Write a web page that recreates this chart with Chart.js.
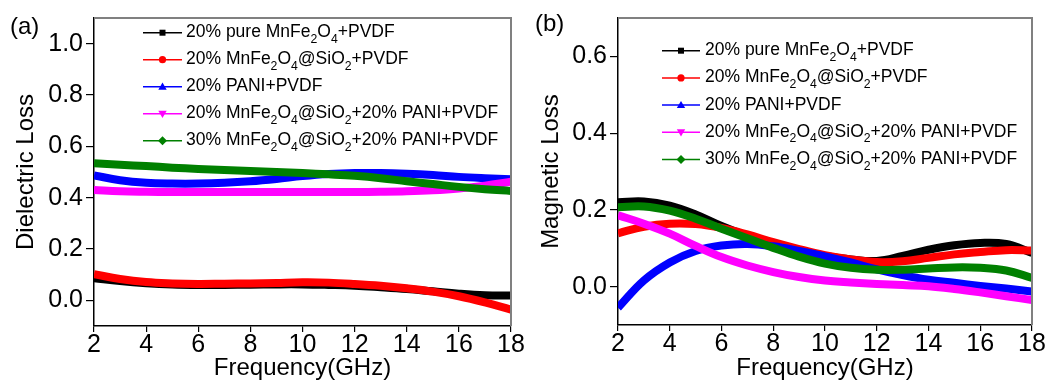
<!DOCTYPE html>
<html>
<head>
<meta charset="utf-8">
<script src="https://cdn.jsdelivr.net/npm/chart.js@4/dist/chart.umd.min.js"></script>
<style>
  html, body { margin: 0; padding: 0; background: #fff; }
  body { width: 1064px; height: 390px; position: relative; overflow: hidden; }
  canvas { position: absolute; top: 0; }
  #c1 { left: 0; }
  #c2 { left: 532px; }
</style>
</head>
<body>
<canvas id="c1" width="532" height="390"></canvas>
<canvas id="c2" width="532" height="390"></canvas>
<script>
// ---------- data ----------
const freq = [2, 3, 4, 5, 6, 7, 8, 9, 10, 11, 12, 13, 14, 15, 16, 17, 18];
const xTicks = [2, 4, 6, 8, 10, 12, 14, 16, 18];
const dielTicks = [0.0, 0.2, 0.4, 0.6, 0.8, 1.0];
const magTicks = [0.0, 0.2, 0.4, 0.6];

const seriesLabels = [
  '20% pure MnFe_2O_4+PVDF',
  '20% MnFe_2O_4@SiO_2+PVDF',
  '20% PANI+PVDF',
  '20% MnFe_2O_4@SiO_2+20% PANI+PVDF',
  '30% MnFe_2O_4@SiO_2+20% PANI+PVDF'
];
const seriesColors = ['#000000', '#ff0000', '#0000ff', '#ff00ff', '#008000'];
const seriesMarkers = ['square', 'circle', 'triangle', 'invTriangle', 'diamond'];

// (a) Dielectric loss
const dielPure      = [0.086, 0.075, 0.067, 0.062, 0.060, 0.060, 0.061, 0.062, 0.062, 0.060, 0.057, 0.051, 0.044, 0.035, 0.026, 0.020, 0.019];
const dielSiO2      = [0.102, 0.083, 0.071, 0.066, 0.064, 0.065, 0.066, 0.068, 0.070, 0.069, 0.064, 0.057, 0.047, 0.034, 0.016, -0.008, -0.036];
const dielPani      = [0.487, 0.468, 0.458, 0.455, 0.455, 0.458, 0.464, 0.473, 0.484, 0.492, 0.496, 0.496, 0.493, 0.488, 0.481, 0.476, 0.472];
const dielSiO2Pani20 = [0.430, 0.425, 0.423, 0.422, 0.422, 0.422, 0.422, 0.422, 0.422, 0.422, 0.422, 0.423, 0.425, 0.429, 0.436, 0.447, 0.462];
const dielSiO2Pani30 = [0.534, 0.528, 0.523, 0.517, 0.512, 0.508, 0.504, 0.500, 0.496, 0.491, 0.485, 0.476, 0.464, 0.453, 0.442, 0.433, 0.426];

// (b) Magnetic loss
const magPure       = [0.220, 0.222, 0.211, 0.188, 0.158, 0.132, 0.110, 0.092, 0.080, 0.071, 0.067, 0.080, 0.096, 0.108, 0.114, 0.111, 0.088];
const magSiO2       = [0.139, 0.156, 0.164, 0.163, 0.153, 0.136, 0.116, 0.098, 0.082, 0.071, 0.064, 0.066, 0.075, 0.084, 0.090, 0.095, 0.094];
const magPani       = [-0.055, 0.016, 0.063, 0.093, 0.107, 0.111, 0.105, 0.093, 0.079, 0.063, 0.045, 0.030, 0.018, 0.010, 0.002, -0.005, -0.013];
const magSiO2Pani20 = [0.186, 0.164, 0.138, 0.106, 0.077, 0.055, 0.038, 0.025, 0.016, 0.011, 0.007, 0.004, 0.001, -0.006, -0.015, -0.025, -0.035];
const magSiO2Pani30 = [0.207, 0.209, 0.198, 0.177, 0.151, 0.126, 0.101, 0.078, 0.060, 0.049, 0.044, 0.044, 0.047, 0.050, 0.049, 0.042, 0.023];

// ---------- helpers ----------
const FAMILY = '"Liberation Sans", Arial, sans-serif';
Chart.defaults.font.family = FAMILY;
Chart.defaults.color = '#000';

function drawRich(ctx, text, x, y, size) {
  const parts = text.split(/(_\d)/).filter(s => s.length);
  let cx = x;
  ctx.textBaseline = 'alphabetic';
  ctx.textAlign = 'left';
  for (const p of parts) {
    if (p[0] === '_') {
      ctx.font = (size * 0.7) + 'px ' + FAMILY;
      ctx.fillText(p.slice(1), cx, y + size * 0.32);
      cx += ctx.measureText(p.slice(1)).width;
    } else {
      ctx.font = size + 'px ' + FAMILY;
      ctx.fillText(p, cx, y);
      cx += ctx.measureText(p).width;
    }
  }
}

function drawMarker(ctx, type, x, y, color) {
  ctx.save();
  ctx.fillStyle = color;
  ctx.beginPath();
  if (type === 'square') {
    ctx.rect(x - 3, y - 3, 6, 6);
  } else if (type === 'circle') {
    ctx.arc(x, y, 3.6, 0, Math.PI * 2);
  } else if (type === 'triangle') {
    ctx.moveTo(x, y - 4.2); ctx.lineTo(x + 4.2, y + 3); ctx.lineTo(x - 4.2, y + 3); ctx.closePath();
  } else if (type === 'invTriangle') {
    ctx.moveTo(x, y + 4.2); ctx.lineTo(x + 4.2, y - 3); ctx.lineTo(x - 4.2, y - 3); ctx.closePath();
  } else if (type === 'diamond') {
    ctx.moveTo(x, y - 4.5); ctx.lineTo(x + 4.5, y); ctx.lineTo(x, y + 4.5); ctx.lineTo(x - 4.5, y); ctx.closePath();
  }
  ctx.fill();
  ctx.restore();
}

const decoPlugin = {
  id: 'deco',
  afterDraw(chart, args, opts) {
    const ctx = chart.ctx;
    const a = chart.chartArea;
    ctx.save();
    // top & right frame (gray)
    ctx.strokeStyle = '#808080';
    ctx.lineWidth = 2;
    ctx.beginPath();
    ctx.moveTo(a.left, a.top);
    ctx.lineTo(a.right, a.top);
    ctx.lineTo(a.right, a.bottom);
    ctx.stroke();
    // legend
    const lg = opts.legend;
    for (let i = 0; i < seriesLabels.length; i++) {
      const y = lg.y0 + lg.dy * i;
      ctx.strokeStyle = seriesColors[i];
      ctx.lineWidth = 1.5;
      ctx.beginPath();
      ctx.moveTo(lg.x0, y);
      ctx.lineTo(lg.x1, y);
      ctx.stroke();
      drawMarker(ctx, seriesMarkers[i], (lg.x0 + lg.x1) / 2, y, seriesColors[i]);
      ctx.fillStyle = '#000';
      drawRich(ctx, seriesLabels[i], lg.tx, y + 4.5, lg.size);
    }
    // panel label
    ctx.fillStyle = '#000';
    ctx.font = '24px ' + FAMILY;
    ctx.textBaseline = 'middle';
    ctx.textAlign = 'left';
    ctx.fillText(opts.panel.text, opts.panel.x, opts.panel.y);
    ctx.restore();
  }
};

function makeChart(canvasId, values, ySpec) {
  const datasets = values.map((v, i) => ({
    label: seriesLabels[i].replace(/_/g, ''),
    data: freq.map((f, j) => ({ x: f, y: v[j] })),
    borderColor: seriesColors[i],
    backgroundColor: seriesColors[i],
    borderWidth: 8,
    pointRadius: 0,
    tension: 0.4,
    fill: false,
    order: values.length - i
  }));
  return new Chart(document.getElementById(canvasId), {
    type: 'line',
    data: { datasets },
    plugins: [decoPlugin],
    options: {
      responsive: false,
      animation: false,
      devicePixelRatio: 1,
      layout: { padding: ySpec.padding },
      plugins: {
        legend: { display: false },
        tooltip: { enabled: false },
        deco: { legend: ySpec.legend, panel: ySpec.panel }
      },
      scales: {
        x: {
          type: 'linear',
          min: 2, max: 18,
          afterBuildTicks: s => { s.ticks = xTicks.map(v => ({ value: v })); },
          afterFit: s => { s.height = ySpec.xHeight; },
          ticks: { font: { size: 25 }, padding: -2, maxRotation: 0, color: '#000' },
          grid: { drawOnChartArea: false, drawTicks: true, tickLength: 6, color: '#000', lineWidth: 1.2 },
          border: { display: true, color: '#000', width: 1.5 },
          title: { display: true, text: 'Frequency(GHz)', font: { size: 24 }, color: '#000', padding: { top: 0, bottom: 7 } }
        },
        y: {
          type: 'linear',
          min: ySpec.min, max: ySpec.max,
          afterBuildTicks: s => { s.ticks = ySpec.ticks.map(v => ({ value: v })); },
          afterFit: s => { s.width = ySpec.yWidth; },
          ticks: { font: { size: 25 }, padding: 3, color: '#000', callback: v => Number(v).toFixed(1) },
          grid: { drawOnChartArea: false, drawTicks: true, tickLength: 8, color: '#000', lineWidth: 1.2 },
          border: { display: true, color: '#000', width: 1.5 },
          title: { display: true, text: ySpec.title, font: { size: 24 }, color: '#000', padding: { top: ySpec.titlePad, bottom: 0 } }
        }
      }
    }
  });
}

makeChart('c1', [dielPure, dielSiO2, dielPani, dielSiO2Pani20, dielSiO2Pani30], {
  min: -0.1, max: 1.1, ticks: dielTicks, title: 'Dielectric Loss', titlePad: 11.5,
  padding: { left: 0, right: 21, top: 13, bottom: 0 },
  yWidth: 94, xHeight: 64,
  legend: { x0: 143, x1: 182, tx: 186, y0: 32.7, dy: 27, size: 17.5 },
  panel: { text: '(a)', x: 10, y: 27 }
});

makeChart('c2', [magPure, magSiO2, magPani, magSiO2Pani20, magSiO2Pani30], {
  min: -0.1, max: 0.7, ticks: magTicks, title: 'Magnetic Loss', titlePad: 4.5,
  padding: { left: 0, right: 32, top: 13, bottom: 0 },
  yWidth: 86, xHeight: 65,
  legend: { x0: 130, x1: 168, tx: 173, y0: 50.7, dy: 27.2, size: 17.5 },
  panel: { text: '(b)', x: 3, y: 24 }
});
</script>
</body>
</html>
